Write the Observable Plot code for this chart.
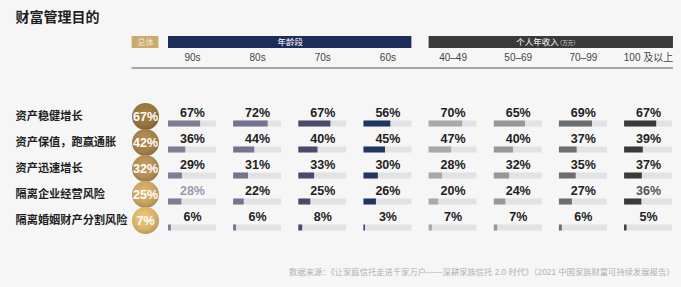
<!DOCTYPE html>
<html><head><meta charset="utf-8">
<script src="https://cdn.jsdelivr.net/npm/d3@7"></script>
<script src="https://cdn.jsdelivr.net/npm/@observablehq/plot@0.6"></script>
<style>
html,body{margin:0;padding:0;background:#f6f6f6;}
svg{display:block;}
</style>
</head><body>
<div id="chart"></div>
<script>
// ---- data ----
const title = "财富管理目的";
const source = "数据来源：《让家庭信托走进千家万户——深耕家族信托 2.0 时代》（2021 中国家族财富可持续发展报告）";
const rows = ["资产稳健增长", "资产保值，跑赢通胀", "资产迅速增长", "隔离企业经营风险", "隔离婚姻财产分割风险"];
const overallLabel = "总体";
const overall = [67, 42, 32, 25, 7];
const columns = ["90s", "80s", "70s", "60s", "40–49", "50–69", "70–99", "100 及以上"];
const groupNames = ["年龄段", "个人年收入"];
const groupSuffix = ["", "（万元）"];
const groupFrom = [0, 4];
const groupTo = [3, 7];
const v90s = [67, 36, 29, 28, 6];
const v80s = [72, 44, 31, 22, 6];
const v70s = [67, 40, 33, 25, 8];
const v60s = [56, 45, 30, 26, 3];
const v4049 = [70, 47, 28, 20, 7];
const v5069 = [65, 40, 32, 24, 7];
const v7099 = [69, 37, 35, 27, 6];
const v100 = [67, 39, 37, 36, 5];
const series = [v90s, v80s, v70s, v60s, v4049, v5069, v7099, v100];

// ---- styles ----
const barColors = ["#7f7d96", "#75738f", "#4b4a6a", "#1f3563", "#a9a9a9", "#979797", "#6e6e6e", "#3a3a3a"];
const groupColors = ["#1c2d5a", "#3a3a3a"];
const circleColors = ["#94743f", "#a3804a", "#b18d55", "#c8a261", "#d8b26a"];
const STEP = 136, TRACK = 100, OVERALL_X = -48;

const cells = rows.flatMap((r, i) => columns.map((c, j) => ({
  row: r, ri: i, ci: j, v: series[j][i], start: j * STEP, color: barColors[j]
})));
const groups = groupNames.map((g, k) => ({
  name: g, suffix: groupSuffix[k], x1: groupFrom[k] * STEP, x2: groupTo[k] * STEP + TRACK, color: groupColors[k]
}));
const overallData = rows.map((r, i) => ({row: r, v: overall[i], color: circleColors[i]}));
const colData = columns.map((c, j) => ({name: c, x: j * STEP + TRACK / 2}));

function valueFill(d) {
  if (d.ri === 3 && d.ci === 0) return "#9b99b2";
  if (d.ri === 3 && d.ci === 7) return "#555";
  return "#222";
}

const font = "'Liberation Sans', 'Noto Sans CJK SC', sans-serif";
const M = {lineAnchor: "middle"};

const chart = Plot.plot({
  width: 681, height: 287,
  marginTop: 0, marginRight: 0, marginBottom: 0, marginLeft: 0,
  style: {background: "#f6f6f6", fontFamily: font, overflow: "visible"},
  x: {domain: [0, 7 * STEP + TRACK], range: [168, 672], axis: null},
  y: {type: "point", domain: rows, range: [103, 233.5], axis: null},
  color: {type: "identity"},
  marks: [
    // title & source
    Plot.text([title], {...M, frameAnchor: "top-left", dx: 15, dy: 17.5, textAnchor: "start", fontSize: 14, fontWeight: "bold", fill: "#1e1e1e"}),
    Plot.text([source], {...M, frameAnchor: "bottom-right", dx: -7, dy: -15, textAnchor: "end", fontSize: 8.3, fill: "#b0b0b0"}),
    // header
    Plot.barX([overallLabel], {x1: OVERALL_X - 28, x2: OVERALL_X + 28, fill: "#c9ab6d", insetTop: 36, insetBottom: 239}),
    Plot.text([overallLabel], {...M, x: OVERALL_X, frameAnchor: "top", dy: 42, fontSize: 8, fill: "#f4ead2"}),
    Plot.barX(groups, {x1: "x1", x2: d => d.x2 + (d.suffix ? 2 : 0), fill: "color", insetTop: 36, insetBottom: 239}),
    Plot.text(groups.filter(g => !g.suffix), {...M, x: d => (d.x1 + d.x2) / 2, text: "name", frameAnchor: "top", dy: 42, fontSize: 8.5, fill: "#ffffff"}),
    Plot.text(groups.filter(g => g.suffix), {...M, x: d => (d.x1 + d.x2) / 2, text: "name", frameAnchor: "top", dy: 42, dx: 8, textAnchor: "end", fontSize: 8.5, fill: "#ffffff"}),
    Plot.text(groups.filter(g => g.suffix), {...M, x: d => (d.x1 + d.x2) / 2, text: "suffix", frameAnchor: "top", dy: 42.5, dx: 6, textAnchor: "start", fontSize: 5.5, fill: "#dddddd"}),
    Plot.text(colData, {...M, x: "x", text: "name", frameAnchor: "top", dy: 57, fontSize: 10, fill: "#444"}),
    Plot.barX([0], {x1: OVERALL_X - 28, x2: 7 * STEP + TRACK + 2, fill: "#5a5a5a", insetTop: 67.5, insetBottom: 218.5}),
    // row labels
    Plot.text(rows, {...M, y: d => d, frameAnchor: "left", dx: 15, textAnchor: "start", fontSize: 11.2, fontWeight: "bold", fill: "#1e1e1e"}),
    // overall circles
    Plot.dot(overallData, {x: () => OVERALL_X, y: "row", r: 13.5, fill: "color"}),
    Plot.text(overallData, {...M, x: () => OVERALL_X, y: "row", text: d => d.v + "%", fontSize: 12.5, fontWeight: "bold", fill: "#ffffff"}),
    // tracks & bars
    Plot.ruleY(cells, {y: "row", x1: "start", x2: d => d.start + TRACK, stroke: "#e2e2e4", strokeWidth: 6, dy: 7}),
    Plot.ruleY(cells, {y: "row", x1: "start", x2: d => d.start + d.v, stroke: "color", strokeWidth: 6, dy: 7}),
    Plot.text(cells, {...M, x: d => d.start + TRACK / 2, y: "row", text: d => d.v + "%", dy: -4, fontSize: 12.5, fontWeight: "bold", fill: valueFill})
  ]
});

// soft radial shading on the overall circles
const svg = d3.select(chart);
const defs = svg.insert("defs", ":first-child");
svg.selectAll("circle").each(function (_, i) {
  const c = d3.select(this);
  const base = d3.color(c.attr("fill"));
  if (!base) return;
  const id = "gold" + i;
  const g = defs.append("radialGradient").attr("id", id).attr("cx", "45%").attr("cy", "40%").attr("r", "60%");
  g.append("stop").attr("offset", "0%").attr("stop-color", base.brighter(0.35).formatHex());
  g.append("stop").attr("offset", "70%").attr("stop-color", base.formatHex());
  g.append("stop").attr("offset", "100%").attr("stop-color", base.darker(0.45).formatHex());
  c.attr("fill", `url(#${id})`);
});
document.getElementById("chart").appendChild(chart);
</script>
</body></html>
